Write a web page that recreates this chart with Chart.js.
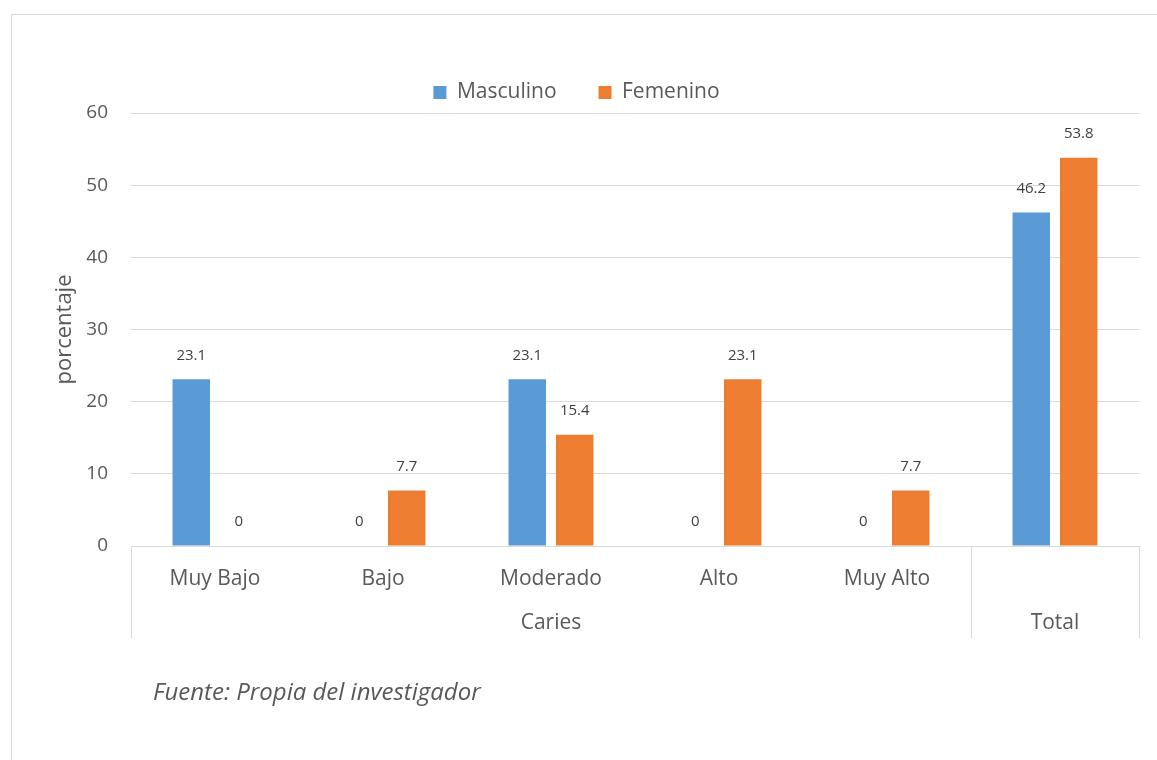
<!DOCTYPE html>
<html>
<head>
<meta charset="utf-8">
<script src="https://cdn.jsdelivr.net/npm/chart.js@4/dist/chart.umd.min.js"></script>
<style>
  html, body { margin: 0; padding: 0; background: #fff; overflow: hidden; }
  #frame { position: absolute; left: 11px; top: 14px; width: 1200px; height: 800px; border: 1px solid #d9d9d9; }
  #wrap { position: absolute; left: 0; top: 0; width: 1157px; height: 760px; }
  #source { position: absolute; left: 153px; top: 676px; font: italic 24px 'Open Sans'; line-height: 30px; color: #595959; }
</style>
</head>
<body>
<div id="frame"></div>
<div id="wrap"><canvas id="chart"></canvas></div>
<div id="source">Fuente: Propia del investigador</div>
<script>
// data
const categories = ['Muy Bajo', 'Bajo', 'Moderado', 'Alto', 'Muy Alto', ''];
const groupLabels = ['Caries', 'Total'];
const groupSpans = [5, 1];
const masculino = [23.1, 0, 23.1, 0, 0, 46.2];
const femenino = [0, 7.7, 15.4, 23.1, 7.7, 53.8];
const yMin = 0, yMax = 60, yStep = 10;

const FONT = "'Open Sans', sans-serif";
const GREY = '#595959';
const LINE = '#d9d9d9';

// value labels over each bar
const barLabels = {
  id: 'barLabels',
  afterDatasetsDraw(chart) {
    const ctx = chart.ctx;
    ctx.save();
    ctx.font = '15px ' + FONT;
    ctx.fillStyle = '#404040';
    ctx.textAlign = 'center';
    ctx.textBaseline = 'middle';
    chart.data.datasets.forEach((ds, i) => {
      chart.getDatasetMeta(i).data.forEach((bar, j) => {
        ctx.fillText(String(ds.data[j]), bar.x, bar.y - 24);
      });
    });
    ctx.restore();
  }
};

// second row of the category axis (Caries / Total) with separators
const groupAxis = {
  id: 'groupAxis',
  afterDraw(chart) {
    const { ctx, chartArea } = chart;
    const x = chart.scales.x;
    const half = (x.getPixelForValue(1) - x.getPixelForValue(0)) / 2;
    const bottom = chartArea.bottom + 92;
    ctx.save();
    ctx.strokeStyle = LINE;
    ctx.lineWidth = 1;
    ctx.font = '21px ' + FONT;
    ctx.fillStyle = GREY;
    ctx.textAlign = 'center';
    ctx.textBaseline = 'middle';
    const vline = px => {
      ctx.beginPath();
      ctx.moveTo(Math.round(px) + 0.5, chartArea.bottom);
      ctx.lineTo(Math.round(px) + 0.5, bottom);
      ctx.stroke();
    };
    let start = 0;
    vline(x.getPixelForValue(0) - half);
    groupLabels.forEach((g, k) => {
      const end = start + groupSpans[k];
      const l = x.getPixelForValue(start) - half;
      const r = x.getPixelForValue(end - 1) + half;
      vline(r);
      ctx.fillText(g, (l + r) / 2, chartArea.bottom + 77);
      start = end;
    });
    ctx.restore();
  }
};

new Chart(document.getElementById('chart'), {
  type: 'bar',
  data: {
    labels: categories,
    datasets: [{
      label: 'Masculino',
      data: masculino,
      backgroundColor: '#5B9BD5',
      categoryPercentage: 0.565,
      barPercentage: 0.79,
    }, {
      label: 'Femenino',
      data: femenino,
      backgroundColor: '#ED7D31',
      categoryPercentage: 0.565,
      barPercentage: 0.79,
    }]
  },
  options: {
    responsive: true,
    maintainAspectRatio: false,
    animation: false,
    layout: { padding: { left: 14, right: 18, top: 40, bottom: 0 } },
    plugins: {
      legend: {
        position: 'top',
        labels: {
          boxWidth: 13,
          boxHeight: 13,
          padding: 42,
          color: GREY,
          font: { family: FONT, size: 21 }
        }
      },
      tooltip: { enabled: false }
    },
    scales: {
      x: {
        grid: { display: false },
        border: { display: false },
        ticks: { color: GREY, font: { family: FONT, size: 21 }, padding: 12, maxRotation: 0 },
        afterFit: s => { s.height = 214; }
      },
      y: {
        min: yMin,
        max: yMax,
        ticks: { stepSize: yStep, color: GREY, font: { family: FONT, size: 19 }, padding: 23 },
        grid: { color: LINE, drawTicks: false },
        border: { display: false },
        title: { display: true, text: 'porcentaje', color: GREY, font: { family: FONT, size: 22 }, padding: { top: 38, bottom: 0 } },
        afterFit: s => { s.width = 117; }
      }
    }
  },
  plugins: [barLabels, groupAxis]
});
</script>
</body>
</html>
